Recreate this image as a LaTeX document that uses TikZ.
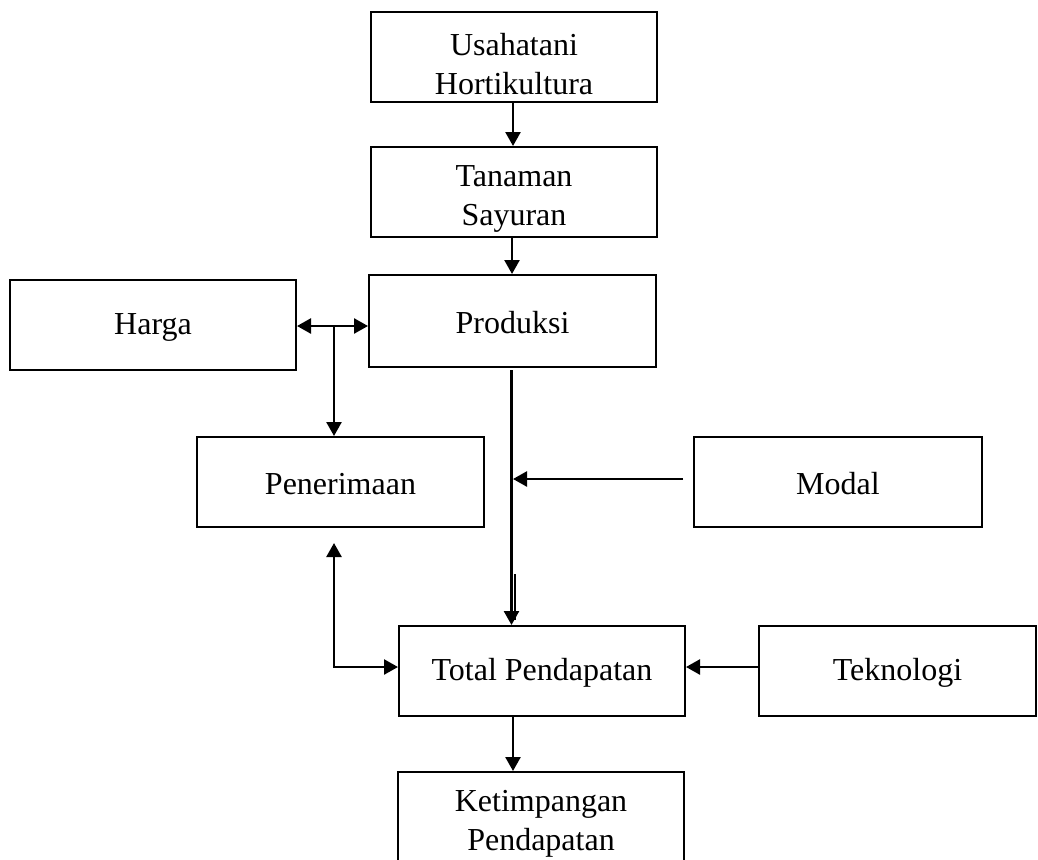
\documentclass[tikz,border=0pt]{standalone}
\usepackage{fontspec}
\setmainfont{Liberation Serif}
\usetikzlibrary{arrows.meta}
\begin{document}
\begin{tikzpicture}[x=1pt,y=-1pt,
  box/.style={draw, line width=2pt, minimum width=286pt, minimum height=90pt, inner sep=0pt},
  txt/.style={inner sep=0pt, align=center, font=\fontsize{32}{38.5}\selectfont},
  arr/.style={line width=2.5pt, -{Triangle[length=14pt,width=15pt]}},
  darr/.style={line width=2.5pt, {Triangle[length=14pt,width=15pt]}-{Triangle[length=14pt,width=15pt]}}]
\clip (0,0) rectangle (1038,859);
\fill[white] (0,0) rectangle (1038,859);
\node[box] (u) at (514,57) {};
\node[txt] (ut) at ([yshift=-7pt]u.center) {Usahatani\\Hortikultura};
\node[box] (t) at (514,192) {};
\node[txt] (tt) at ([yshift=-7pt]t.center) {Tanaman\\Sayuran};
\node[box, minimum width=287pt, minimum height=92pt] (p) at (512.5,321) {};
\node[txt] (pt) at ([yshift=-2pt]p.center) {Produksi};
\node[box] (h) at (153,325) {};
\node[txt] (ht) at ([yshift=-2pt]h.center) {Harga};
\node[box, minimum width=287pt] (pen) at (340.5,482) {};
\node[txt] (pent) at ([yshift=-2pt]pen.center) {Penerimaan};
\node[box, minimum width=288pt] (m) at (838,482) {};
\node[txt] (mt) at ([yshift=-2pt]m.center) {Modal};
\node[box] (tot) at (542,671) {};
\node[txt] (tott) at ([yshift=-2pt]tot.center) {Total Pendapatan};
\node[box, minimum width=277pt] (tek) at (897.5,671) {};
\node[txt] (tekt) at ([yshift=-2pt]tek.center) {Teknologi};
\node[box] (k) at (541,817) {};
\node[txt] (kt) at ([yshift=-7pt]k.center) {Ketimpangan\\Pendapatan};
% connectors
\draw[arr] (u.south -| 513,0) -- (t.north -| 513,0);
\draw[arr] (t.south -| 512,0) -- (p.north -| 512,0);
\coordinate (hp) at (334,326);
\draw[darr] (h.east |- hp) -- (p.west |- hp);
\draw[arr] (hp) -- (pen.north -| hp);
\coordinate (ps) at (511.5,370);
\draw[arr] (ps) -- (ps |- tot.north);
\coordinate (d1) at (515,574);
\draw[line width=2.5pt] (d1) -- (515,620);
\coordinate (mm) at (683,479);
\draw[arr] (mm) -- (513,479);
\coordinate (pu) at (334,543);
\coordinate (pc) at (334,667);
\draw[darr] (pu) -- (pc) -- (tot.west |- pc);
\draw[arr] (tek.west |- pc) -- (tot.east |- pc);
\draw[arr] (tot.south -| 513,0) -- (k.north -| 513,0);
\end{tikzpicture}
\end{document}
